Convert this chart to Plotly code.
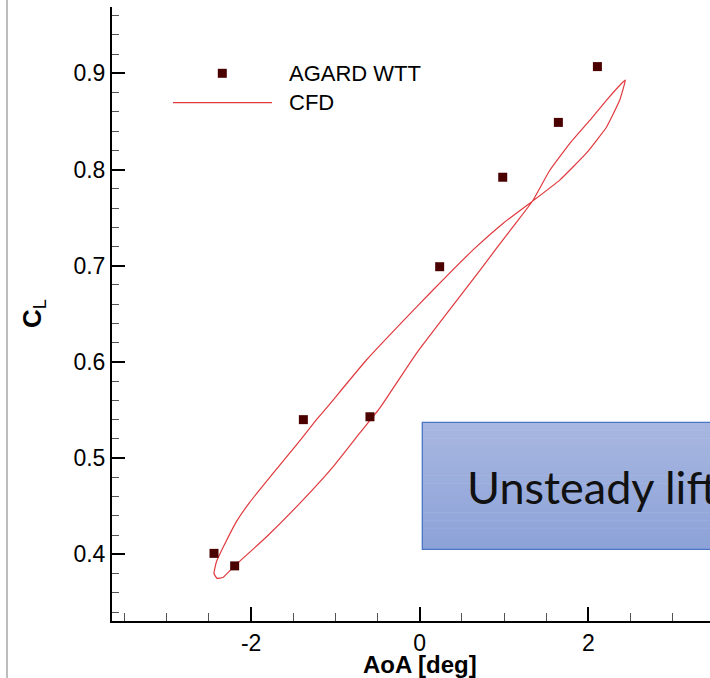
import plotly.graph_objects as go

# Wind-tunnel test points (AGARD WTT): angle of attack [deg] and lift coefficient
wtt_aoa = [-2.44, -2.195, -1.38, -0.59, 0.237, 0.985, 1.645, 2.108]
wtt_cl = [0.401, 0.388, 0.540, 0.543, 0.699, 0.792, 0.849, 0.907]

# CFD hysteresis loop, traced once around the pitching cycle
cfd_aoa = [-2.404, -2.333, -2.195, -1.819, -1.423, -1.028, -0.712, -0.474,
           -0.039, 0.317, 0.712, 0.910, 1.147, 1.337, 1.542, 1.779, 2.017,
           2.215, 2.412, 2.440, 2.372, 2.215, 1.977, 1.661, 1.337, 0.988,
           0.652, 0.317, -0.039, -0.632, -1.107, -1.225, -1.423, -1.779,
           -2.017, -2.174, -2.333, -2.412, -2.440, -2.404]
cfd_cl = [0.375, 0.376, 0.388, 0.418, 0.453, 0.491, 0.526, 0.552,
          0.609, 0.650, 0.695, 0.718, 0.745, 0.767, 0.799, 0.827, 0.851,
          0.872, 0.891, 0.893, 0.872, 0.844, 0.817, 0.789, 0.767, 0.744,
          0.718, 0.689, 0.657, 0.602, 0.552, 0.540, 0.518, 0.480,
          0.454, 0.434, 0.407, 0.392, 0.380, 0.375]

x_tick_vals = [-2, 0, 2]
x_tick_text = ["-2", "0", "2"]

series_names = ["AGARD WTT", "CFD"]
x_title = "AoA [deg]"
y_title = "<b>C</b><sub>L</sub>"
box_text = "Unsteady lift"

W, H = 710, 678
ML, MR, MT, MB = 112, 0, 7, 57
PW, PH = W - ML - MR, H - MT - MB

MARKER_COLOR = "#4B0000"
LINE_COLOR = "#E0393E"
FONT = "Liberation Sans, Arial, sans-serif"


def px(xp):
    """Pixel column -> paper x."""
    return (xp - ML) / PW


def py(yp):
    """Pixel row -> paper y."""
    return (H - MB - yp) / PH


fig = go.Figure()

fig.add_trace(go.Scatter(
    x=cfd_aoa, y=cfd_cl, mode="lines", name=series_names[1],
    line=dict(color=LINE_COLOR, width=1.2, shape="spline", smoothing=0.35),
    showlegend=False,
))
fig.add_trace(go.Scatter(
    x=wtt_aoa, y=wtt_cl, mode="markers", name=series_names[0],
    marker=dict(symbol="square", size=9, color=MARKER_COLOR),
    showlegend=False,
))

shapes = []
annotations = []

# thin grey frame edge on the left
shapes.append(dict(type="line", xref="paper", yref="paper",
                   x0=px(7), x1=px(7), y0=py(0), y1=py(H),
                   line=dict(color="#BDBDBD", width=2)))

# legend keys
shapes.append(dict(type="rect", xref="paper", yref="paper",
                   x0=px(222.3 - 4.5), x1=px(222.3 + 4.5),
                   y0=py(73.3 + 4.5), y1=py(73.3 - 4.5),
                   fillcolor=MARKER_COLOR, line=dict(width=0)))
shapes.append(dict(type="line", xref="paper", yref="paper",
                   x0=px(173), x1=px(272), y0=py(102.7), y1=py(102.7),
                   line=dict(color=LINE_COLOR, width=1.3)))
annotations.append(dict(text=series_names[0], xref="paper", yref="paper",
                        x=px(287), y=py(73.5), xanchor="left", yanchor="middle",
                        showarrow=False, font=dict(size=22, color="black", family=FONT)))
annotations.append(dict(text=series_names[1], xref="paper", yref="paper",
                        x=px(287), y=py(103), xanchor="left", yanchor="middle",
                        showarrow=False, font=dict(size=22, color="black", family=FONT)))

# gradient-filled callout box
bx0, bx1, by0, by1 = 422.3, 780, 422.3, 549.3
top_rgb = (0xA8, 0xB7, 0xE0)
bot_rgb = (0x8C, 0xA2, 0xD8)
n_bands = 48
for i in range(n_bands):
    t = (i + 0.5) / n_bands
    c = tuple(round(a + (b - a) * t) for a, b in zip(top_rgb, bot_rgb))
    ya = by0 + (by1 - by0) * i / n_bands
    yb = by0 + (by1 - by0) * (i + 1) / n_bands + 0.6
    shapes.append(dict(type="rect", xref="paper", yref="paper",
                       x0=px(bx0), x1=px(bx1), y0=py(min(yb, by1)), y1=py(ya),
                       fillcolor="rgb(%d,%d,%d)" % c, line=dict(width=0),
                       layer="above"))
shapes.append(dict(type="rect", xref="paper", yref="paper",
                   x0=px(bx0), x1=px(bx1), y0=py(by1), y1=py(by0),
                   line=dict(color="#4A75C5", width=1.3), fillcolor="rgba(0,0,0,0)",
                   layer="above"))
annotations.append(dict(text=box_text, xref="paper", yref="paper",
                        x=px(465), y=py(486.5), xanchor="left", yanchor="middle",
                        showarrow=False,
                        font=dict(size=45, color="#111111", family="Lato, sans-serif")))

# axis titles
annotations.append(dict(text="<b>%s</b>" % x_title, xref="x", yref="paper",
                        x=0, y=py(664), xanchor="center", yanchor="middle",
                        showarrow=False, font=dict(size=24, color="black", family=FONT)))
annotations.append(dict(text=y_title, xref="paper", yref="paper",
                        x=px(33), y=py(314), xanchor="center", yanchor="middle",
                        textangle=-90, showarrow=False,
                        font=dict(size=26, color="black", family=FONT)))

fig.update_layout(
    width=W, height=H,
    margin=dict(l=ML, r=MR, t=MT, b=MB, pad=0),
    paper_bgcolor="white", plot_bgcolor="white",
    font=dict(family=FONT, size=23, color="black"),
    showlegend=False,
    shapes=shapes, annotations=annotations,
    xaxis=dict(
        range=[-3.65, -3.65 + PW / 84.3],
        showline=True, linecolor="black", linewidth=2,
        ticks="inside", ticklen=14, tickwidth=2, tickcolor="black",
        tickmode="array", tickvals=x_tick_vals, ticktext=x_tick_text,
        showgrid=False, zeroline=False,
        tickfont=dict(size=23), ticklabelstandoff=0,
        minor=dict(dtick=0.5, tick0=0, ticks="inside", ticklen=8,
                   tickwidth=1, tickcolor="#555555", showgrid=False),
    ),
    yaxis=dict(
        range=[0.3307, 0.3307 + PH / 962.0],
        showline=True, linecolor="black", linewidth=2,
        ticks="inside", ticklen=13, tickwidth=2, tickcolor="black",
        tick0=0, dtick=0.1, tickformat=".1f", showgrid=False, zeroline=False,
        tickfont=dict(size=23), ticklabelstandoff=0,
        minor=dict(dtick=0.02, tick0=0, ticks="inside", ticklen=7,
                   tickwidth=1, tickcolor="#555555", showgrid=False),
    ),
)

fig.write_html("out.html")
